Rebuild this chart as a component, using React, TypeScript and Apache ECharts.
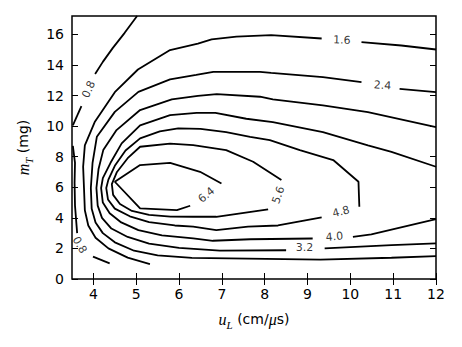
import React, { useEffect, useRef } from 'react';
import * as echarts from 'echarts';

// Axis ticks
const xTicks = [4, 5, 6, 7, 8, 9, 10, 11, 12];
const yTicks = [0, 2, 4, 6, 8, 10, 12, 14, 16];

// Contour level 0.8 (pieces split at labels / data boundary)
const c08a = [[5.02, 17.2], [4.73, 16.1], [4.45, 15.1], [4.22, 14.2], [4.04, 13.4]];
const c08b = [[3.72, 11.3], [3.52, 10.05]];
const c08c = [[3.52, 8.7], [3.57, 7.6], [3.56, 6.3], [3.57, 4.8], [3.62, 3.0]];
const c08d = [[3.99, 1.46], [4.38, 1.02]];

// Contour level 1.6
const c16a = [[12, 15.01], [11.19, 15.27], [10.26, 15.49]];
const c16b = [[9.33, 15.73], [8.15, 15.95], [7.34, 15.85], [6.76, 15.67], [6.44, 15.4], [5.79, 14.97], [5.04, 13.7], [4.5, 12.22], [4.03, 10.26], [3.8, 8.74], [3.76, 7.34], [3.78, 5.95], [3.8, 4.5], [3.88, 3.5], [4.05, 2.7], [4.35, 2.0], [4.8, 1.4], [5.32, 0.98]];

// Contour level 2.4
const c24a = [[12, 12.22], [11.15, 12.44]];
const c24b = [[10.26, 12.88], [9.36, 13.2], [8.15, 13.48], [7.89, 13.55], [6.8, 13.55], [6.4, 13.35], [5.79, 13.05], [5.05, 12.24], [4.5, 10.93], [4.08, 9.3], [3.98, 7.6], [3.94, 5.95], [3.96, 4.6], [4.05, 3.7], [4.22, 3.0], [4.5, 2.4], [4.95, 1.85], [5.5, 1.55], [6.3, 1.38], [7.6, 1.33], [9.3, 1.27], [10.96, 1.39], [12, 1.5]];

// Contour level 3.2
const c32a = [[12, 9.93], [10.41, 10.92], [9.36, 11.35], [8.19, 11.75], [7.89, 11.92], [6.88, 12.09], [6.44, 11.98], [5.83, 11.75], [5.09, 11.05], [4.54, 9.74], [4.23, 8.43], [4.12, 7.2], [4.07, 5.95], [4.1, 4.8], [4.2, 4.0], [4.42, 3.3], [4.8, 2.75], [5.3, 2.32], [6.0, 2.03], [6.95, 1.85], [8.5, 1.88]];
const c32b = [[9.4, 2.0], [10.96, 2.22], [12, 2.33]];

// Contour level 4.0
const c40a = [[12, 7.34], [10.96, 8.32], [10.41, 8.74], [9.36, 9.61], [8.19, 10.26], [7.57, 10.48], [6.85, 10.87], [6.41, 10.87], [5.79, 10.72], [5.09, 10.05], [4.66, 8.87], [4.4, 7.6], [4.22, 6.6], [4.18, 5.95], [4.22, 5.0], [4.38, 4.3], [4.65, 3.7], [5.05, 3.2], [5.6, 2.85], [6.33, 2.66], [6.79, 2.5], [7.66, 2.6], [9.12, 2.65]];
const c40b = [[10.06, 2.76], [10.49, 2.92], [12, 3.92]];

// Contour level 4.8
const c48a = [[10.21, 4.73], [10.2, 5.5], [10.19, 6.36], [9.6, 7.78], [8.82, 8.43], [8.12, 9.08], [7.66, 9.3], [7.1, 9.6], [6.5, 9.82], [5.98, 9.85], [5.55, 9.65], [5.09, 9.2], [4.75, 8.4], [4.5, 7.4], [4.35, 6.5], [4.3, 5.95], [4.34, 5.2], [4.5, 4.6], [4.85, 4.1], [5.3, 3.72], [5.9, 3.5], [6.33, 3.42], [6.87, 3.2], [7.61, 3.42], [8.31, 3.5], [9.33, 4.03]];

// Contour level 5.6
const c56a = [[8.39, 6.47], [7.73, 7.67], [7.1, 8.43], [6.33, 8.76], [5.79, 8.85], [5.09, 8.65], [4.8, 7.9], [4.55, 7.0], [4.43, 6.2], [4.46, 5.5], [4.62, 4.9], [4.9, 4.45], [5.3, 4.2], [5.8, 4.08], [6.33, 4.07], [6.87, 4.07], [8.08, 4.55]];

// Contour level 6.4
const c64a = [[6.99, 6.25], [6.49, 7.01], [5.79, 7.6], [5.09, 7.45], [4.5, 6.36], [5.09, 4.62], [5.95, 4.51], [6.26, 4.79]];

// Contour labels
const labelTexts = ['0.8', '0.8', '1.6', '2.4', '3.2', '4.0', '4.8', '5.6', '6.4'];
const labelX = [3.89, 3.68, 9.8, 10.75, 8.93, 9.63, 9.78, 8.32, 6.64];
const labelY = [12.4, 2.22, 15.62, 12.66, 2.05, 2.77, 4.4, 5.49, 5.49];
const labelAngle = [65, -60, -2, -4, 0, 5, 15, 70, 40];

const segments = [c08a, c08b, c08c, c08d, c16a, c16b, c24a, c24b, c32a, c32b, c40a, c40b, c48a, c56a, c64a];

const FONT = 'DejaVu Sans';
const MATH = 'Liberation Serif';

export default function App() {
  const ref = useRef<HTMLDivElement>(null);
  useEffect(() => {
    if (!ref.current) return;
    const chart = echarts.init(ref.current, null, { renderer: 'svg' });
    const lineSeries = segments.map((seg) => ({
      type: 'line',
      data: seg,
      showSymbol: false,
      symbol: 'none',
      smooth: false,
      clip: true,
      silent: true,
      lineStyle: { color: '#000', width: 1.8 },
      z: 2,
    }));
    const labelSeries = {
      type: 'scatter',
      symbolSize: 1,
      itemStyle: { color: 'rgba(0,0,0,0)' },
      z: 5,
      silent: true,
      data: labelTexts.map((t, i) => ({
        value: [labelX[i], labelY[i]],
        label: {
          show: true,
          position: 'inside',
          formatter: t,
          rotate: labelAngle[i],
          color: '#000',
          fontSize: 11,
          fontFamily: FONT,
          textBorderWidth: 0,
          textBorderColor: 'transparent',
          textShadowBlur: 0,
        },
      })),
    };
    const tickCommon = {
      show: true,
      inside: true,
      length: 6,
      lineStyle: { color: '#000', width: 1 },
    };
    const richTitle = {
      i: { fontFamily: MATH, fontStyle: 'italic', fontSize: 16, color: '#000', lineHeight: 22 },
      s: { fontFamily: MATH, fontStyle: 'italic', fontSize: 11, color: '#000', verticalAlign: 'bottom', lineHeight: 11 },
      n: { fontFamily: FONT, fontSize: 14, color: '#000', lineHeight: 22 },
    };
    const option: any = {
      animation: false,
      backgroundColor: '#fff',
      grid: {
        left: 72,
        right: 26,
        top: 16,
        bottom: 68,
        show: true,
        borderColor: '#000',
        borderWidth: 1.5,
        backgroundColor: 'transparent',
      },
      xAxis: [
        {
          type: 'value',
          min: 3.5,
          max: 12,
          position: 'bottom',
          axisLine: { show: false },
          splitLine: { show: false },
          axisTick: { ...tickCommon, customValues: xTicks },
          axisLabel: {
            customValues: xTicks,
            color: '#000',
            fontSize: 14,
            fontFamily: FONT,
            margin: 8,
          },
          name: '{i|u}{s|L}{n| (cm/}{i|μ}{n|s)}',
          nameLocation: 'middle',
          nameGap: 29,
          nameTextStyle: { rich: richTitle },
        },
        {
          type: 'value',
          min: 3.5,
          max: 12,
          position: 'top',
          axisLine: { show: false },
          splitLine: { show: false },
          axisTick: { ...tickCommon, customValues: xTicks },
          axisLabel: { show: false },
        },
      ],
      yAxis: [
        {
          type: 'value',
          min: 0,
          max: 17.2,
          position: 'left',
          axisLine: { show: false },
          splitLine: { show: false },
          axisTick: { ...tickCommon, customValues: yTicks },
          axisLabel: {
            customValues: yTicks,
            color: '#000',
            fontSize: 14,
            fontFamily: FONT,
            margin: 8,
          },
          name: '{i|m}{s|T}{n| (mg)}',
          nameLocation: 'middle',
          nameGap: 38,
          nameRotate: 90,
          nameTextStyle: { rich: richTitle },
        },
        {
          type: 'value',
          min: 0,
          max: 17.2,
          position: 'right',
          axisLine: { show: false },
          splitLine: { show: false },
          axisTick: { ...tickCommon, customValues: yTicks },
          axisLabel: { show: false },
        },
      ],
      series: [...lineSeries, labelSeries],
    };
    chart.setOption(option);
    return () => chart.dispose();
  }, []);
  return (
    <div
      ref={ref}
      style={{ position: 'fixed', left: 0, top: 0, width: 462, height: 347, background: '#fff' }}
    />
  );
}
